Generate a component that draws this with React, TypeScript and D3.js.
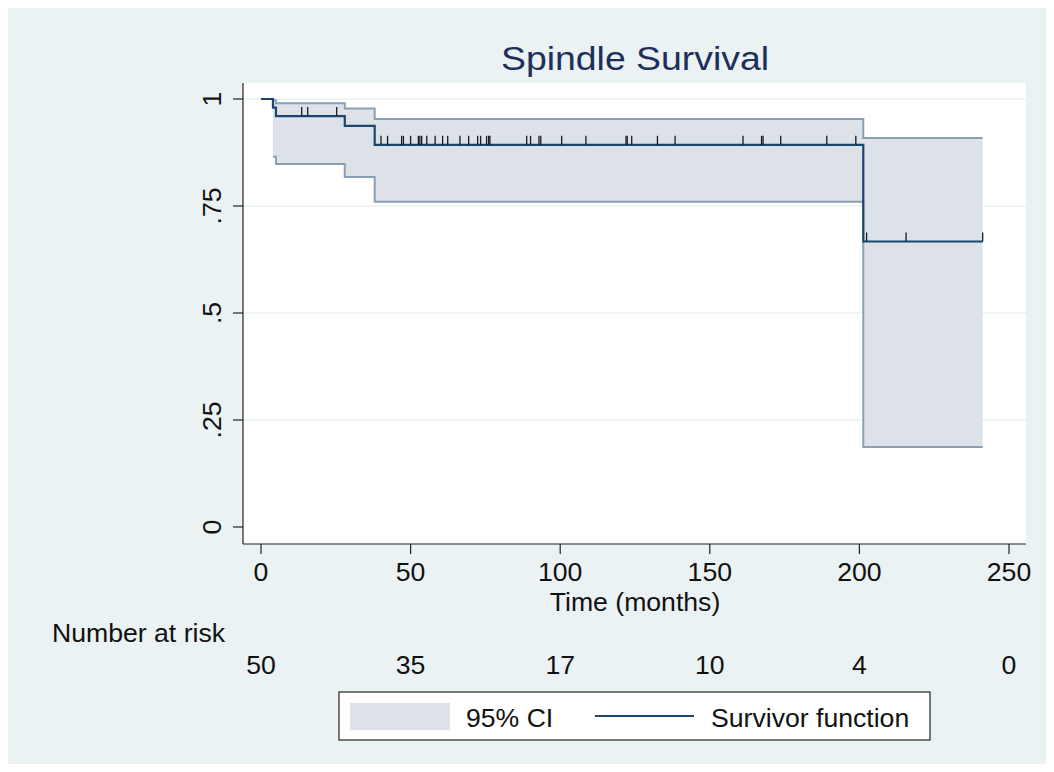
import React from "react";
import * as d3 from "d3";

// ---- Data ----
const eventTimes = [0, 4, 5, 28, 38, 201.3];
const survival = [1, 0.98, 0.96, 0.937, 0.893, 0.667];
const ciLower = [1, 0.865, 0.848, 0.818, 0.76, 0.187];
const ciUpper = [1, 0.997, 0.99, 0.978, 0.953, 0.909];
const endTime = 241.2;
const censorTimes = [
  13.6, 15.6, 25.3, 40.1, 42.3, 47.0, 47.6, 50.0, 52.6, 53.1, 53.7, 55.4, 58.2,
  60.7, 62.4, 66.5, 69.4, 72.4, 73.4, 75.4, 76.1, 76.5, 88.8, 90.1, 92.9, 93.5,
  100.5, 108.6, 122.0, 122.4, 123.9, 132.5, 138.4, 161.1, 167.3, 167.8, 173.7,
  189.1, 198.8, 202.4, 215.6, 241.2,
];
const xTicks = [0, 50, 100, 150, 200, 250];
const yTicks = [0, 0.25, 0.5, 0.75, 1];
const yTickLabels = ["0", ".25", ".5", ".75", "1"];
const atRiskTimes = [0, 50, 100, 150, 200, 250];
const atRiskCounts = [50, 35, 17, 10, 4, 0];

const FONT = "'Liberation Sans', Arial, Helvetica, sans-serif";
const SX = 1.065;

function T({
  x,
  y,
  children,
  anchor = "start",
  size = 25,
  sx = SX,
  rotate = 0,
  fill = "#111",
}: any) {
  return (
    <g transform={`translate(${x},${y}) rotate(${rotate}) scale(${sx},1)`}>
      <text x={0} y={0} textAnchor={anchor} fontSize={size} fill={fill}>
        {children}
      </text>
    </g>
  );
}

export default function App() {
  const W = 1054;
  const H = 772;
  const plot = { left: 243, right: 1026, top: 83, bottom: 544 };
  const x = d3.scaleLinear().domain([0, 250]).range([261, 1009]);
  const y = d3.scaleLinear().domain([0, 1]).range([527, 99]);

  const stepPts = (vals: number[], startIdx: number) => {
    const pts: [number, number][] = [];
    for (let i = startIdx; i < eventTimes.length; i++) {
      pts.push([eventTimes[i], vals[i]]);
    }
    pts.push([endTime, vals[vals.length - 1]]);
    return pts;
  };
  const line = d3
    .line<[number, number]>()
    .x((d) => x(d[0]))
    .y((d) => y(d[1]))
    .curve(d3.curveStepAfter);

  const survPath = line(stepPts(survival, 0)) || "";
  const upperPts = stepPts(ciUpper, 1);
  const lowerPts = stepPts(ciLower, 1);
  const upperPath = line(upperPts) || "";
  const lowerPath = line(lowerPts) || "";

  const bandData = lowerPts.map((d, i) => ({
    t: d[0],
    lo: d[1],
    hi: upperPts[i][1],
  }));
  const area = d3
    .area<{ t: number; lo: number; hi: number }>()
    .x((d) => x(d.t))
    .y0((d) => y(d.lo))
    .y1((d) => y(d.hi))
    .curve(d3.curveStepAfter);
  const bandPath = area(bandData) || "";

  const survAt = (t: number) => {
    let s = survival[0];
    for (let i = 0; i < eventTimes.length; i++) {
      if (eventTimes[i] <= t) s = survival[i];
    }
    return s;
  };

  const curveColor = "#1a476f";
  const ciLineColor = "#8a9fb4";
  const ciFill = "#dde2e9";
  const bg = "#eaf2f3";

  return (
    <svg
      width={W}
      height={H}
      style={{ position: "absolute", left: 0, top: 0 }}
      fontFamily={FONT}
    >
      <rect x={0} y={0} width={W} height={H} fill="#ffffff" />
      <rect x={8} y={8} width={1038} height={756} fill={bg} />
      <rect
        x={plot.left}
        y={plot.top}
        width={plot.right - plot.left}
        height={plot.bottom - plot.top}
        fill="#ffffff"
      />
      {yTicks
        .filter((t) => t > 0)
        .map((t) => (
          <line
            key={"g" + t}
            x1={plot.left}
            x2={plot.right}
            y1={y(t)}
            y2={y(t)}
            stroke={bg}
            strokeWidth={1.6}
          />
        ))}
      <T x={635} y={70} anchor="middle" size={34} sx={1.1} fill="#1e2f5c">
        Spindle Survival
      </T>

      <path d={bandPath} fill={ciFill} stroke="none" />
      <path d={upperPath} fill="none" stroke={ciLineColor} strokeWidth={2} />
      <path d={lowerPath} fill="none" stroke={ciLineColor} strokeWidth={2} />
      <path d={survPath} fill="none" stroke={curveColor} strokeWidth={2.2} />
      {censorTimes.map((t, i) => (
        <line
          key={"c" + i}
          x1={x(t)}
          x2={x(t)}
          y1={y(survAt(t))}
          y2={y(survAt(t)) - 9}
          stroke="#1a1a1a"
          strokeWidth={1.3}
        />
      ))}

      <line
        x1={plot.left}
        x2={plot.left}
        y1={plot.top}
        y2={plot.bottom}
        stroke="#222"
        strokeWidth={1.2}
      />
      {yTicks.map((t, i) => (
        <g key={"yt" + t}>
          <line
            x1={plot.left - 10}
            x2={plot.left}
            y1={y(t)}
            y2={y(t)}
            stroke="#222"
            strokeWidth={1.2}
          />
          <T x={221} y={y(t)} anchor="middle" rotate={-90}>
            {yTickLabels[i]}
          </T>
        </g>
      ))}
      <line
        x1={plot.left}
        x2={plot.right}
        y1={plot.bottom}
        y2={plot.bottom}
        stroke="#222"
        strokeWidth={1.2}
      />
      {xTicks.map((t) => (
        <g key={"xt" + t}>
          <line
            x1={x(t)}
            x2={x(t)}
            y1={plot.bottom}
            y2={plot.bottom + 10}
            stroke="#222"
            strokeWidth={1.2}
          />
          <T x={x(t)} y={581} anchor="middle">
            {t}
          </T>
        </g>
      ))}
      <T x={635} y={611} anchor="middle">
        Time (months)
      </T>

      <T x={52} y={642}>
        Number at risk
      </T>
      {atRiskTimes.map((t, i) => (
        <T key={"r" + t} x={x(t)} y={674} anchor="middle">
          {atRiskCounts[i]}
        </T>
      ))}

      <rect
        x={339}
        y={692}
        width={591}
        height={48}
        fill="#ffffff"
        stroke="#222"
        strokeWidth={1.2}
      />
      <rect x={350} y={703} width={100} height={27} fill={ciFill} />
      <T x={466} y={727}>
        95% CI
      </T>
      <line
        x1={595}
        x2={694}
        y1={716}
        y2={716}
        stroke={curveColor}
        strokeWidth={2.2}
      />
      <T x={711} y={727}>
        Survivor function
      </T>
    </svg>
  );
}
